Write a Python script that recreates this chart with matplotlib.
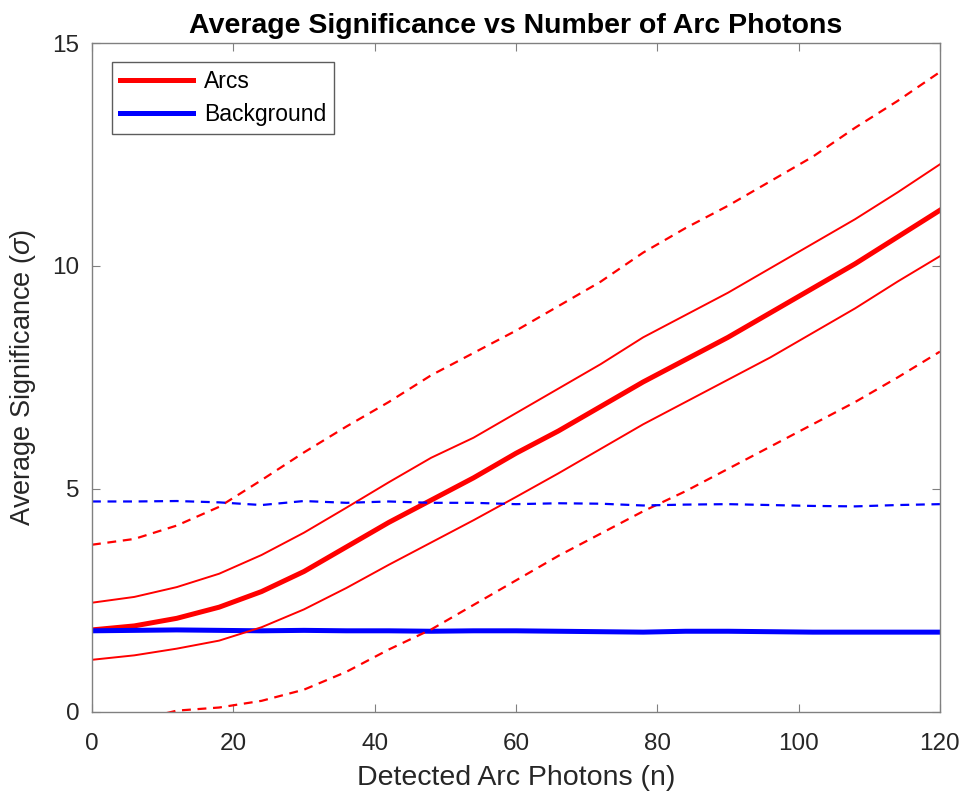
import matplotlib
matplotlib.use("Agg")
import matplotlib.pyplot as plt

plt.rcParams['font.family'] = ['Liberation Sans', 'DejaVu Sans']
plt.rcParams['mathtext.fontset'] = 'custom'
plt.rcParams['mathtext.it'] = 'Liberation Sans:italic'

x = [0, 6, 12, 18, 24, 30, 36, 42, 48, 54, 60, 66, 72, 78, 84, 90, 96, 102, 108, 114, 120]

arc_mean = [1.84, 1.93, 2.10, 2.35, 2.70, 3.15, 3.70, 4.25, 4.75, 5.25, 5.80, 6.30, 6.85, 7.40,
            7.90, 8.40, 8.95, 9.50, 10.05, 10.65, 11.25]
arc_upper = [2.45, 2.58, 2.80, 3.10, 3.52, 4.02, 4.58, 5.15, 5.70, 6.15, 6.70, 7.25, 7.80, 8.40,
             8.90, 9.40, 9.95, 10.50, 11.05, 11.65, 12.28]
arc_lower = [1.17, 1.27, 1.42, 1.60, 1.90, 2.30, 2.78, 3.30, 3.80, 4.30, 4.82, 5.35, 5.90, 6.45,
             6.95, 7.45, 7.95, 8.50, 9.05, 9.65, 10.22]
arc_upper2 = [3.75, 3.88, 4.18, 4.60, 5.20, 5.82, 6.40, 6.95, 7.55, 8.05, 8.55, 9.10, 9.65, 10.30,
              10.85, 11.35, 11.90, 12.45, 13.10, 13.70, 14.35]
arc_lower2 = [-0.50, -0.20, 0.03, 0.10, 0.25, 0.50, 0.90, 1.40, 1.85, 2.40, 2.95, 3.50, 4.00, 4.50,
              4.95, 5.45, 5.95, 6.45, 6.95, 7.50, 8.08]

bg_mean = [1.82, 1.83, 1.84, 1.83, 1.82, 1.83, 1.82, 1.82, 1.81, 1.82, 1.82, 1.81, 1.80, 1.79,
           1.81, 1.81, 1.80, 1.79, 1.79, 1.79, 1.79]
bg_upper2 = [4.72, 4.72, 4.73, 4.70, 4.64, 4.73, 4.69, 4.72, 4.69, 4.69, 4.66, 4.68, 4.67, 4.63,
             4.65, 4.66, 4.64, 4.62, 4.61, 4.64, 4.66]

xticks = [0, 20, 40, 60, 80, 100, 120]
yticks = [0, 5, 10, 15]

gray = '#262626'
axcol = '#808080'

fig = plt.figure(figsize=(9.66, 7.98), dpi=100)
ax = fig.add_axes([0.0952, 0.1078, 0.8778, 0.8383])

ax.plot(x, arc_mean, color='red', lw=3.6, label='Arcs')
ax.plot(x, bg_mean, color='blue', lw=3.6, label='Background')
ax.plot(x, arc_upper, color='red', lw=1.4)
ax.plot(x, arc_lower, color='red', lw=1.4)
ax.plot(x, arc_upper2, color='red', lw=1.6, ls=(0, (4, 3)))
ax.plot(x, arc_lower2, color='red', lw=1.6, ls=(0, (4, 3)))
ax.plot(x, bg_upper2, color='blue', lw=1.6, ls=(0, (4, 3)))

ax.set_xlim(0, 120)
ax.set_ylim(0, 15)
ax.set_xticks(xticks)
ax.set_yticks(yticks)
ax.tick_params(direction='in', length=6, width=0.8, colors=axcol, labelcolor=gray,
               labelsize=17.5, top=True, right=True)
ax.tick_params(axis='x', pad=15)
ax.tick_params(axis='y', pad=9)
for s in ax.spines.values():
    s.set_color(axcol)
    s.set_linewidth(1.0)

ax.set_title('Average Significance vs Number of Arc Photons', fontsize=20.5,
             fontweight='bold', color='black', pad=7)
ax.set_xlabel('Detected Arc Photons (n)', fontsize=20.5, color=gray, labelpad=7)
ax.set_ylabel(r'Average Significance ($\sigma$)', fontsize=19.5, color=gray, labelpad=10)

leg = ax.legend(loc='upper left', bbox_to_anchor=(0.0236, 0.972), fontsize=16.5, frameon=True,
                fancybox=False, edgecolor='#333333', handlelength=3.2, borderpad=0.35,
                labelspacing=0.45, handletextpad=0.45, borderaxespad=0, handleheight=0.6)
leg.get_frame().set_linewidth(1.0)

fig.savefig('out.png', dpi=100)
